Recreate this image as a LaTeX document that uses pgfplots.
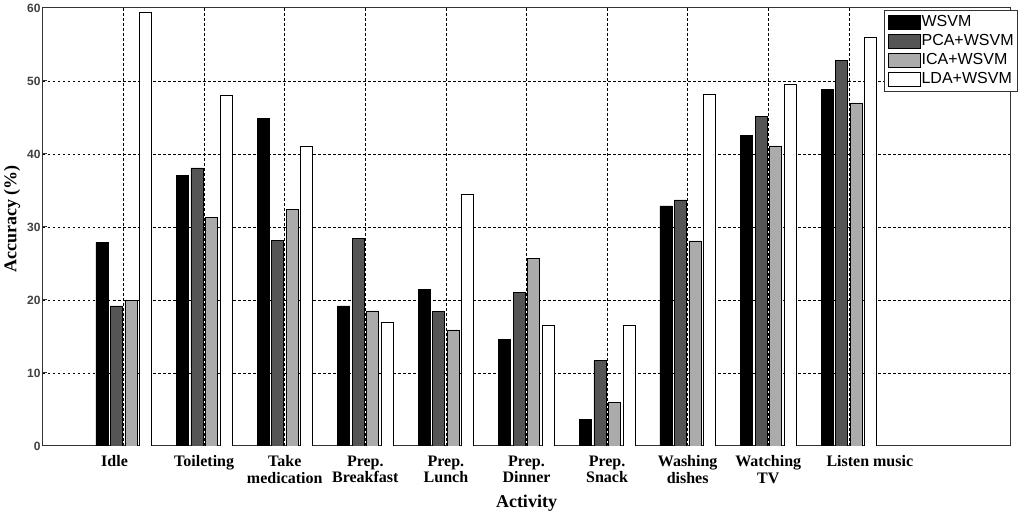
\documentclass[border=0pt]{standalone}
\usepackage{pgfplots}
\usepackage{pgfplotstable}
\pgfplotsset{compat=1.18}
\usepackage{fontspec}
\setmainfont{Liberation Serif}
\setsansfont{Liberation Sans}

\definecolor{darkbar}{HTML}{555555}
\definecolor{lightbar}{HTML}{ABABAB}

% accuracy (%) per activity, x = category index
\pgfplotstableread{
x  wsvm pca  ica  lda
1  27.9 19.2 19.9 59.4
2  37.1 38.1 31.3 48.1
3  44.9 28.2 32.4 41.1
4  19.2 28.4 18.5 17.0
5  21.4 18.4 15.9 34.5
6  14.6 21.0 25.7 16.5
7  3.6  11.7 6.0  16.6
8  32.9 33.7 28.1 48.2
9  42.5 45.1 41.1 49.6
10 48.9 52.8 47.0 56.0
}\acc

\begin{document}
\begin{tikzpicture}
\begin{axis}[
    scale only axis,
    width=967pt, height=438pt,
    ybar=2.5pt, bar width=12pt,
    xmin=0, xmax=12, ymin=0, ymax=60,
    xtick={1,...,10},
    xticklabels={{\hspace*{-18pt}Idle}, Toileting, {Take\\medication}, {Prep.\\Breakfast},
        {Prep.\\Lunch}, {Prep.\\Dinner}, {Prep.\\Snack}, {Washing\\dishes},
        {Watching\\TV}, {\hspace*{42pt}Listen music}},
    xticklabel style={font=\bfseries\fontsize{16}{16.5}\selectfont, align=center, anchor=north, yshift=-2pt},
    ytick={10,20,...,50},
    extra y ticks={0,60},
    extra y tick style={grid=none},
    yticklabel style={font=\sffamily\bfseries\fontsize{12}{12}\selectfont, text=black!75, xshift=1pt},
    /pgf/number format/assume math mode=true,
    grid=major,
    major grid style={black, line width=0.6pt, dash pattern=on 2.5pt off 2.5pt},
    axis line style={black!80, line width=1pt},
    tick pos=left, major tick length=4pt,
    xtick style={draw=none},
    ytick style={black!80, line width=1pt},
    xlabel={Activity}, ylabel={Accuracy (\%)},
    xlabel style={font=\bfseries\fontsize{18}{20}\selectfont,
        at={([yshift=-57pt]axis description cs:0.5,0)}, anchor=center},
    ylabel style={font=\bfseries\fontsize{18}{20}\selectfont,
        at={([xshift=-31pt,yshift=8pt]axis description cs:0,0.5)}, anchor=center},
    legend style={at={(1,1)}, anchor=north east, xshift=8pt, yshift=-2pt,
        font=\sffamily\fontsize{16}{16}\selectfont, draw=black!80, line width=0.8pt,
        inner sep=3pt, row sep=1pt,
        nodes={inner sep=1pt, text height=12pt, text depth=4pt}},
    legend cell align=left,
    legend image code/.code={\draw[#1, line width=0.8pt] (0pt,-7pt) rectangle (32pt,7pt);},
    every axis plot/.append style={draw=black, line width=0.6pt},
]
\addplot[fill=black] table[x=x, y=wsvm] {\acc};
\addplot[fill=darkbar] table[x=x, y=pca] {\acc};
\addplot[fill=lightbar] table[x=x, y=ica] {\acc};
\addplot[fill=white] table[x=x, y=lda] {\acc};
\legend{WSVM, PCA+WSVM, ICA+WSVM, LDA+WSVM}
\end{axis}
\pgfresetboundingbox
\path[use as bounding box] ([xshift=-43pt,yshift=-69pt]current axis.south west)
    rectangle ([xshift=14pt,yshift=8pt]current axis.north east);
\end{tikzpicture}
\end{document}
